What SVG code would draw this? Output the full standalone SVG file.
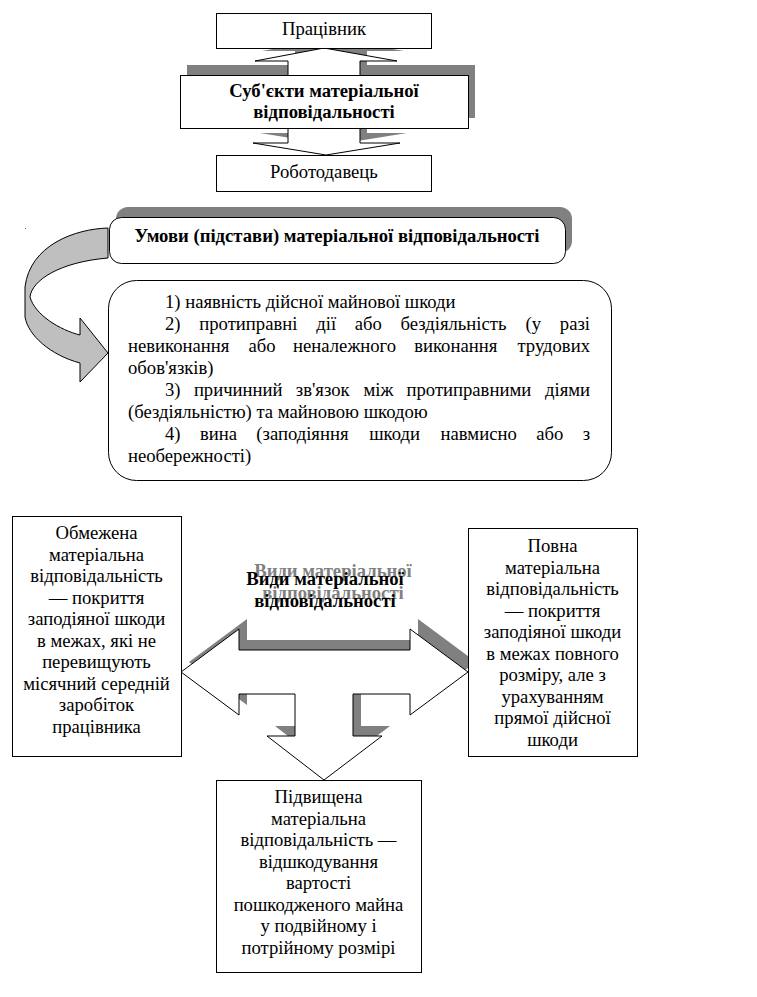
<svg xmlns="http://www.w3.org/2000/svg" width="757" height="997" viewBox="0 0 757 997">
<style>
text{font-family:"Liberation Serif","Times New Roman",serif;font-size:18.67px;fill:#000}
.b{font-weight:bold}
.c{text-anchor:middle}
.e{text-anchor:end}
.box{fill:#fff;stroke:#000;stroke-width:1}
.sh{fill:#808080;stroke:none}
.arr{fill:#fff;stroke:#000;stroke-width:1;stroke-linejoin:miter}
.curve{fill:#bfbfbf;stroke:#000;stroke-width:1;stroke-linejoin:miter}
.gt{fill:#808080}
</style>
<rect width="757" height="997" fill="#fff"/>
<rect x="25" y="228" width="1" height="1" fill="#555"/>

<g id="shadows">
  <rect class="sh" x="187" y="65" width="288" height="53"/>
  <polygon class="sh" points="331,38 404,51 367,51 367,133 407,133 333,145 260,133 295,133 295,51 262,51"/>
  <rect class="sh" x="116" y="207" width="456" height="46" rx="12" ry="12"/>
  <polygon class="sh" points="189,662 247,619 247,640 418,640 418,619 476,662 418,705 418,684 361,684 361,726 390,726 332,770 275,726 303,726 303,684 247,684 247,705"/>
</g>

<g id="connectors">
  <polygon class="arr" points="324,48 397,61 360,61 360,143 400,143 326,155 253,143 288,143 288,61 255,61"/>
  <path class="curve" d="M108,228 C75,229 30,245 25,287 L25,317 C28,335 50,355 80,363 L80,382 L108,353 L80,318 L80,335 C60,330 35,315 30,297 C32,280 60,262 108,258 Z"/>
  <polygon class="arr" points="181,672 239,629 239,650 410,650 410,629 468,672 410,715 410,694 353,694 353,736 382,736 324,780 267,736 295,736 295,694 239,694 239,715"/>
</g>

<g id="n-pracivnyk">
  <rect class="box" x="216.5" y="13.5" width="215" height="35"/>
  <text class="c" x="324" y="35">Працівник</text>
</g>

<g id="n-subjekty">
  <rect class="box" x="180.5" y="75.5" width="288" height="53"/>
  <text class="c b" x="324" y="97">Суб'єкти матеріальної</text>
  <text class="c b" x="324" y="118">відповідальності</text>
</g>

<g id="n-robotodavets">
  <rect class="box" x="216.5" y="155.5" width="215" height="36"/>
  <text class="c" x="324" y="178">Роботодавець</text>
</g>

<g id="n-umovy">
  <rect class="box" x="109.5" y="217.5" width="456" height="46" rx="12" ry="12"/>
  <text class="c b" x="337" y="242">Умови (підстави) матеріальної відповідальності</text>
</g>

<g id="n-list">
  <rect class="box" x="108.5" y="280.5" width="503" height="200" rx="28" ry="28"/>
  <text x="165" y="308">1) наявність дійсної майнової шкоди</text>
  <text y="330"><tspan x="165">2)</tspan><tspan x="199.3">протиправні</tspan><tspan x="316.3">дії</tspan><tspan x="354.7">або</tspan><tspan x="400.5">бездіяльність</tspan><tspan x="525.6">(у</tspan></text>
  <text class="e" x="590" y="330">разі</text>
  <text y="352"><tspan x="128">невиконання</tspan><tspan x="248.4">або</tspan><tspan x="293.1">неналежного</tspan><tspan x="414.2">виконання</tspan></text>
  <text class="e" x="590" y="352">трудових</text>
  <text x="128" y="374">обов'язків)</text>
  <text y="396"><tspan x="165">3)</tspan><tspan x="193.9">причинний</tspan><tspan x="295.8">зв'язок</tspan><tspan x="363.4">між</tspan><tspan x="406.5">протиправними</tspan></text>
  <text class="e" x="590" y="396">діями</text>
  <text x="128" y="418">(бездіяльністю) та майновою шкодою</text>
  <text y="440"><tspan x="165">4)</tspan><tspan x="199.9">вина</tspan><tspan x="256.3">(заподіяння</tspan><tspan x="369.2">шкоди</tspan><tspan x="440.6">навмисно</tspan><tspan x="536.3">або</tspan></text>
  <text class="e" x="590" y="440">з</text>
  <text x="128" y="462">необережності)</text>
</g>

<g id="n-vydy">
  <text class="c b gt" x="333" y="577">Види матеріальної</text>
  <text class="c b gt" x="333" y="599">відповідальності</text>
  <text class="c b" x="325" y="585">Види матеріальної</text>
  <text class="c b" x="325" y="607">відповідальності</text>
</g>

<g id="n-obmezhena">
  <rect class="box" x="12.5" y="516.5" width="169" height="240"/>
  <text class="c" x="96.5" y="539">Обмежена</text>
  <text class="c" x="96.5" y="560.5">матеріальна</text>
  <text class="c" x="96.5" y="582">відповідальність</text>
  <text class="c" x="96.5" y="603.5">— покриття</text>
  <text class="c" x="96.5" y="625">заподіяної шкоди</text>
  <text class="c" x="96.5" y="646.5">в межах, які не</text>
  <text class="c" x="96.5" y="668">перевищують</text>
  <text class="c" x="96.5" y="689.5">місячний середній</text>
  <text class="c" x="96.5" y="711">заробіток</text>
  <text class="c" x="96.5" y="732.5">працівника</text>
</g>

<g id="n-povna">
  <rect class="box" x="468.5" y="528.5" width="169" height="228"/>
  <text class="c" x="552.5" y="552">Повна</text>
  <text class="c" x="552.5" y="573.5">матеріальна</text>
  <text class="c" x="552.5" y="595">відповідальність</text>
  <text class="c" x="552.5" y="616.5">— покриття</text>
  <text class="c" x="552.5" y="638">заподіяної шкоди</text>
  <text class="c" x="552.5" y="659.5">в межах повного</text>
  <text class="c" x="552.5" y="681">розміру, але з</text>
  <text class="c" x="552.5" y="702.5">урахуванням</text>
  <text class="c" x="552.5" y="724">прямої дійсної</text>
  <text class="c" x="552.5" y="745.5">шкоди</text>
</g>

<g id="n-pidvyshchena">
  <rect class="box" x="216.5" y="780.5" width="205" height="192"/>
  <text class="c" x="318.5" y="803">Підвищена</text>
  <text class="c" x="318.5" y="824.5">матеріальна</text>
  <text class="c" x="318.5" y="846">відповідальність —</text>
  <text class="c" x="318.5" y="867.5">відшкодування</text>
  <text class="c" x="318.5" y="889">вартості</text>
  <text class="c" x="318.5" y="910.5">пошкодженого майна</text>
  <text class="c" x="318.5" y="932">у подвійному і</text>
  <text class="c" x="318.5" y="953.5">потрійному розмірі</text>
</g>
</svg>
